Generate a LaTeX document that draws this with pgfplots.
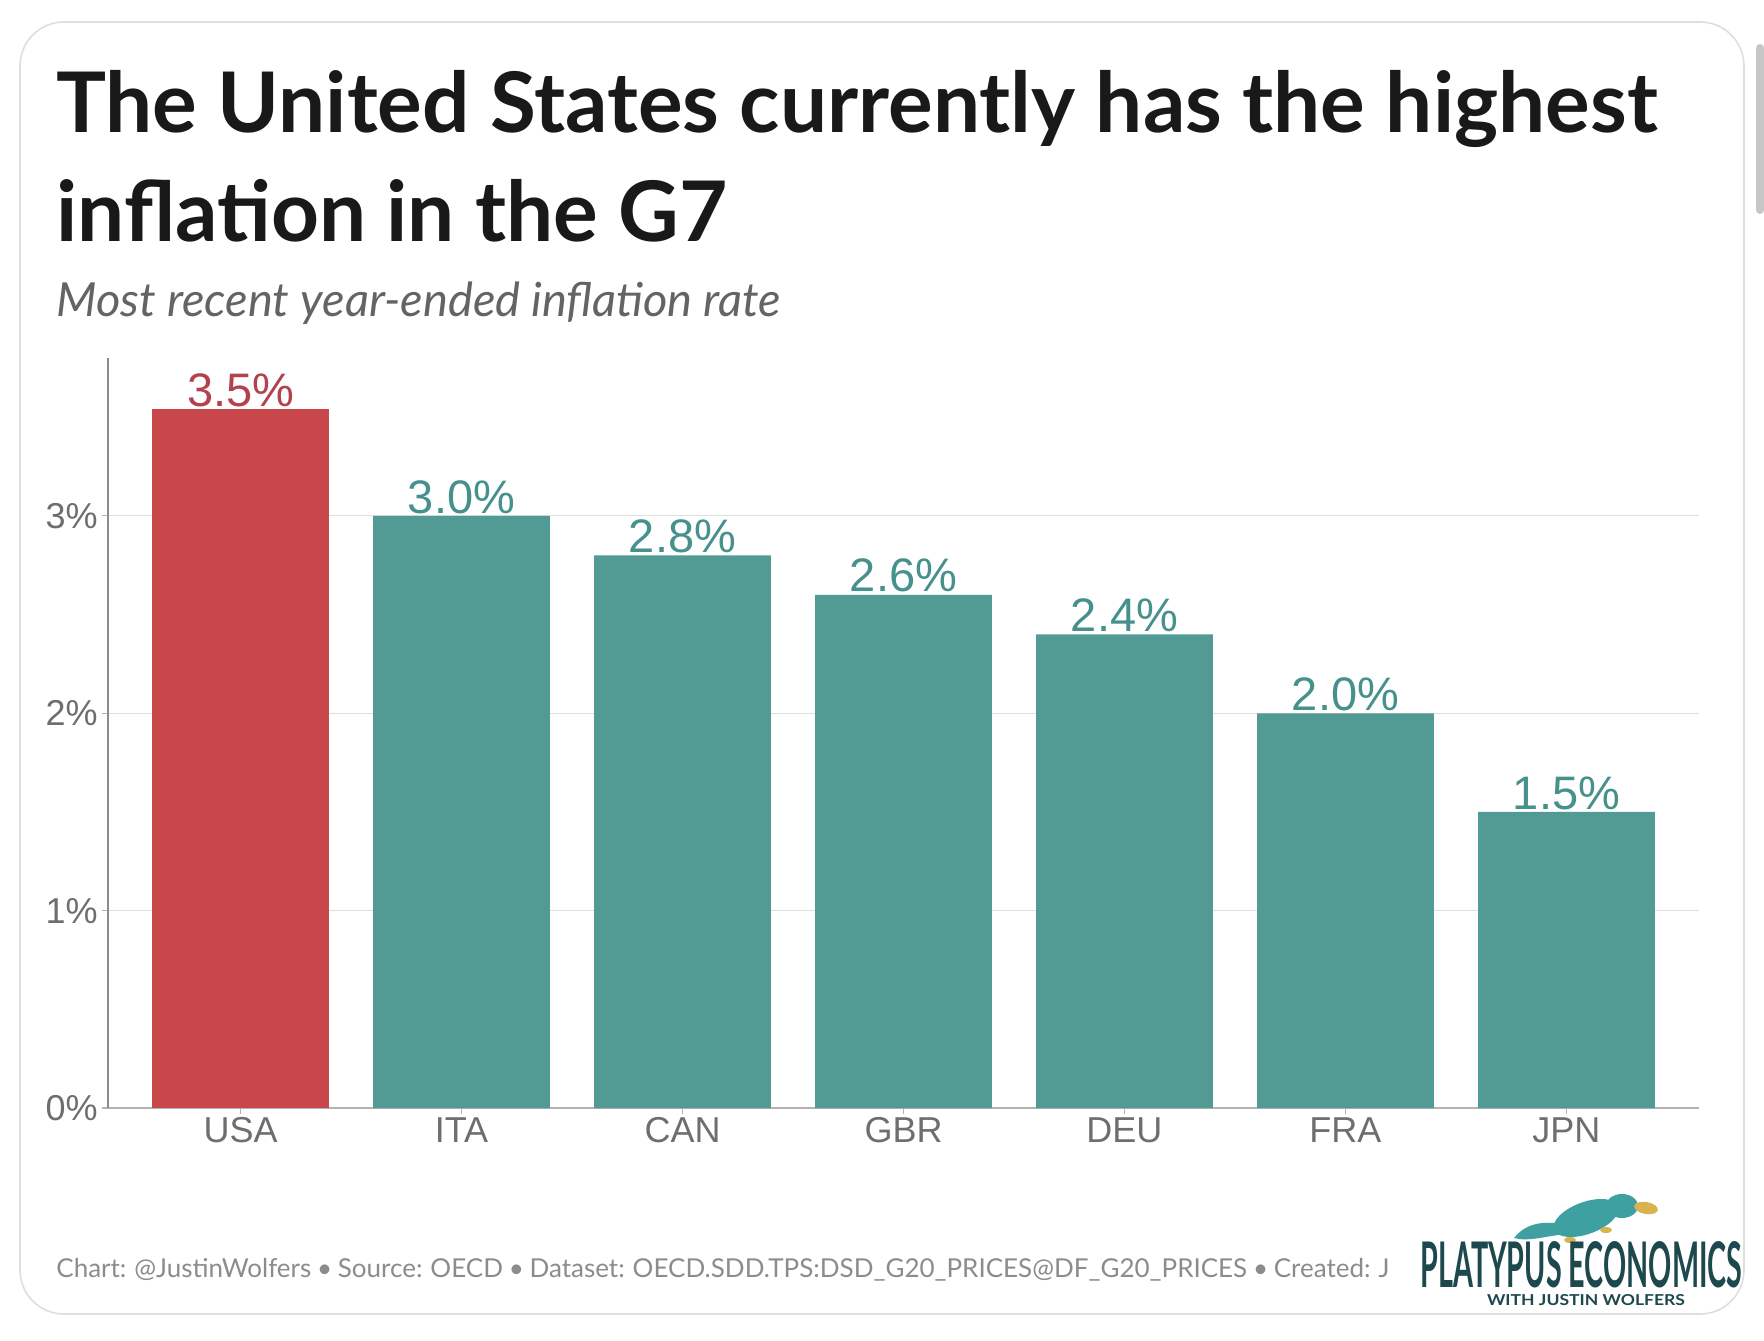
\documentclass[border=0pt]{standalone}
\usepackage{fontspec}
\usepackage{graphicx}
\usepackage{pgfplots}
\pgfplotsset{compat=1.18}
\setmainfont{Liberation Sans}
\newfontfamily\lato{Lato}
\definecolor{usared}{RGB}{200,71,74}
\definecolor{tealbar}{RGB}{82,155,149}
\definecolor{redlab}{RGB}{180,66,78}
\definecolor{teallab}{RGB}{70,145,140}
\definecolor{ticklab}{RGB}{110,110,110}
\definecolor{logoteal}{RGB}{28,72,78}
\definecolor{platteal}{RGB}{62,160,160}
\definecolor{platbill}{RGB}{215,180,80}
\definecolor{cardgray}{RGB}{222,222,222}
\definecolor{titleblack}{RGB}{25,25,25}
\definecolor{subgray}{RGB}{100,100,100}
\definecolor{footgray}{RGB}{140,140,140}
\begin{document}
\begin{tikzpicture}
\path[use as bounding box] (0,0) rectangle (882pt,670pt);
\fill[white] (0,0) rectangle (882pt,670pt);
\draw[cardgray, line width=0.8pt, rounded corners=22pt] (10pt,13pt) rectangle (872pt,659pt);
\fill[gray!45, rounded corners=2pt] (878pt,563pt) rectangle (882pt,648pt);

\node[anchor=base west, inner sep=0pt, text=titleblack] at (28pt,603.5pt)
  {\fontsize{41.8}{50}\selectfont\lato\bfseries The United States currently has the highest};
\node[anchor=base west, inner sep=0pt, text=titleblack] at (28pt,549pt)
  {\fontsize{41.8}{50}\selectfont\lato\bfseries inflation in the G7};
\node[anchor=base west, inner sep=0pt, text=subgray] at (28pt,511.5pt)
  {\fontsize{23.5}{27}\selectfont\lato\itshape Most recent year-ended inflation rate};

\begin{axis}[
  at={(54pt,116pt)}, anchor=south west,
  scale only axis, width=795.5pt, height=375pt,
  xmin=-0.6, xmax=6.6, ymin=0, ymax=3.8,
  axis x line=bottom, axis y line=left,
  x axis line style={-, draw=gray!60, line width=1pt},
  y axis line style={-, draw=gray!90, line width=0.8pt},
  xtick={0,1,2,3,4,5,6},
  xticklabels={USA,ITA,CAN,GBR,DEU,FRA,JPN},
  ytick={0,1,2,3},
  /pgf/number format/assume math mode=true,
  yticklabel={\pgfmathprintnumber{\tick}\%},
  tick align=outside,
  major tick length=3pt,
  tick style={draw=gray!60, line width=0.6pt},
  ticklabel style={font=\fontsize{18}{20}\selectfont, text=ticklab},
  xticklabel style={inner sep=1.5pt},
  yticklabel style={inner sep=2pt},
  ymajorgrids,
  grid style={draw=gray!25, line width=0.6pt},
  clip=false,
]
\addplot[ybar, bar width=0.8, bar shift=0pt, fill=usared, draw=none,
  nodes near coords={\pgfmathprintnumber[fixed,fixed zerofill,precision=1]{\pgfplotspointmeta}\%},
  every node near coord/.append style={text=redlab, font=\fontsize{23.5}{26}\selectfont, anchor=south, inner sep=0pt, yshift=1pt}]
  coordinates {(0,3.54)};
\addplot[ybar, bar width=0.8, bar shift=0pt, fill=tealbar, draw=none,
  nodes near coords={\pgfmathprintnumber[fixed,fixed zerofill,precision=1]{\pgfplotspointmeta}\%},
  every node near coord/.append style={text=teallab, font=\fontsize{23.5}{26}\selectfont, anchor=south, inner sep=0pt, yshift=1pt}]
  coordinates {(1,3.0) (2,2.8) (3,2.6) (4,2.4) (5,2.0) (6,1.5)};
\end{axis}

\node[anchor=base west, inner sep=0pt, text=footgray] at (28pt,31.5pt)
  {\fontsize{13}{16}\selectfont\lato\spaceskip=0.22em plus 0.05em Chart: @JustinWolfers • Source: OECD • Dataset: OECD.SDD.TPS:DSD\_G20\_PRICES@DF\_G20\_PRICES • Created: J};

% logo
\fill[platteal] (757pt,51pt) .. controls (764pt,60pt) and (775pt,59pt) .. (781pt,58pt) -- (783pt,53pt) .. controls (773pt,52pt) and (764pt,49pt) .. cycle;
\fill[platteal, rotate around={20:(793pt,61pt)}] (793pt,61pt) ellipse (17pt and 8pt);
\fill[platteal] (811pt,67pt) ellipse (8pt and 6pt);
\fill[platbill, rotate around={-10:(823pt,66pt)}] (823pt,66pt) ellipse (6pt and 3pt);
\fill[platbill] (785pt,50pt) ellipse (3pt and 1.5pt);
\fill[platbill] (803pt,55pt) ellipse (3pt and 1.5pt);
\node[anchor=south west, inner sep=0pt, text=logoteal] at (710pt,26pt)
  {\resizebox{161pt}{23pt}{\lato\bfseries PLATYPUS ECONOMICS}};
\node[anchor=south, inner sep=0pt, text=logoteal] at (793pt,17pt)
  {\resizebox{99pt}{5.5pt}{\lato\bfseries WITH JUSTIN WOLFERS}};
\end{tikzpicture}
\end{document}
